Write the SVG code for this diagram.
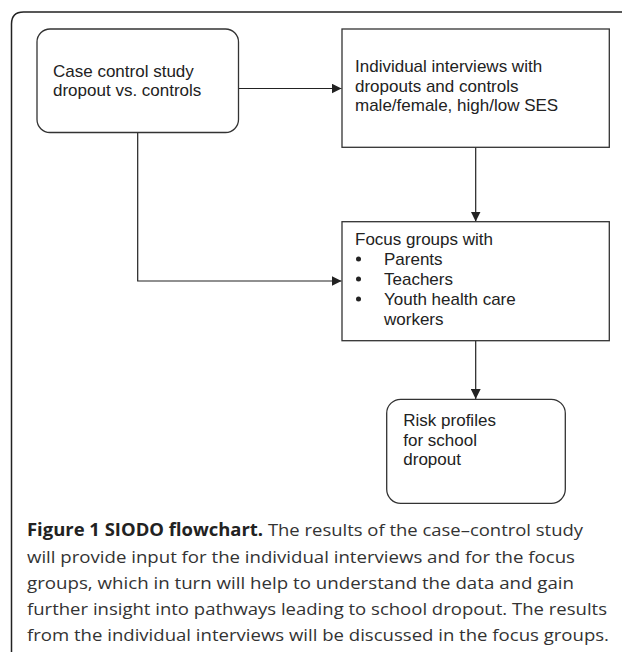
<svg xmlns="http://www.w3.org/2000/svg" width="622" height="652" viewBox="0 0 622 652">
<style>
.box{fill:#fff;stroke:#333;stroke-width:1.3}
.t{font-family:"Liberation Sans",Arial,sans-serif;font-size:17px;fill:#222}
.cap{font-family:"Open Sans","Liberation Sans",sans-serif;font-size:17px;fill:#333}
.capb{font-weight:bold;fill:#222}
.c{fill:none;stroke:#222;stroke-width:1.2}
.bul{fill:#222}
</style>
<defs>
<marker id="ah" viewBox="0 0 10 10" refX="10" refY="5" markerWidth="10" markerHeight="10" markerUnits="userSpaceOnUse" orient="auto">
<path d="M0,0 L10,5 L0,10 z" fill="#222"/>
</marker>
</defs>
<rect width="622" height="652" fill="#fff"/>
<path id="frame" d="M11.5,655 L11.5,24 Q11.5,12 23.5,12 L625,12" fill="none" stroke="#222" stroke-width="1.5"/>
<g id="connectors">
<line class="c" x1="238" y1="88.5" x2="341.5" y2="88.5" marker-end="url(#ah)"/>
<line class="c" x1="475.7" y1="147" x2="475.7" y2="221.5" marker-end="url(#ah)"/>
<polyline class="c" points="137.7,132.5 137.7,281 341.5,281" marker-end="url(#ah)"/>
<line class="c" x1="475.7" y1="341" x2="475.7" y2="399" marker-end="url(#ah)"/>
</g>
<g id="case-control">
<rect class="box" x="37" y="29" width="201.5" height="103.5" rx="13" ry="13"/>
<text class="t" x="53" y="77">Case control study</text>
<text class="t" x="53" y="95.5">dropout vs. controls</text>
</g>
<g id="interviews">
<rect class="box" x="342" y="29" width="267.3" height="118.3"/>
<text class="t" x="355" y="72">Individual interviews with</text>
<text class="t" x="355" y="91.5">dropouts and controls</text>
<text class="t" x="355" y="111">male/female, high/low SES</text>
</g>
<g id="focus-groups">
<rect class="box" x="342" y="221.7" width="267.3" height="119"/>
<text class="t" x="355" y="245">Focus groups with</text>
<circle class="bul" cx="358.5" cy="259" r="2.5"/>
<circle class="bul" cx="358.5" cy="279" r="2.5"/>
<circle class="bul" cx="358.5" cy="299" r="2.5"/>
<text class="t" x="384" y="264.5">Parents</text>
<text class="t" x="384" y="284.5">Teachers</text>
<text class="t" x="384" y="304.5">Youth health care</text>
<text class="t" x="384" y="324.5">workers</text>
</g>
<g id="risk-profiles">
<rect class="box" x="386.7" y="399.3" width="178.6" height="104" rx="14" ry="14"/>
<text class="t" x="403.3" y="426">Risk profiles</text>
<text class="t" x="403.3" y="445.5">for school</text>
<text class="t" x="403.3" y="465">dropout</text>
</g>
<g id="caption">
<text class="cap" x="27" y="536" textLength="556" lengthAdjust="spacingAndGlyphs"><tspan class="capb">Figure 1 SIODO flowchart.</tspan> The results of the case–control study</text>
<text class="cap" x="27" y="562.5" textLength="548" lengthAdjust="spacingAndGlyphs">will provide input for the individual interviews and for the focus</text>
<text class="cap" x="27" y="588.5" textLength="547" lengthAdjust="spacingAndGlyphs">groups, which in turn will help to understand the data and gain</text>
<text class="cap" x="27" y="614.5" textLength="580" lengthAdjust="spacingAndGlyphs">further insight into pathways leading to school dropout. The results</text>
<text class="cap" x="27" y="640.5" textLength="582" lengthAdjust="spacingAndGlyphs">from the individual interviews will be discussed in the focus groups.</text>
</g>
</svg>
